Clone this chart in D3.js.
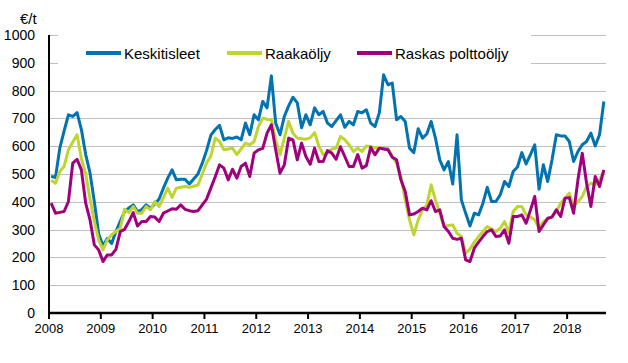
<!DOCTYPE html>
<html><head><meta charset="utf-8">
<script src="https://cdn.jsdelivr.net/npm/d3@7"></script>
<style>
html,body{margin:0;padding:0;background:#fff;}
svg{display:block;font-family:"Liberation Sans",Arial,sans-serif;}
</style></head>
<body><svg id="chart" width="628" height="363"></svg>
<script>
// Monthly data, January 2008 – September 2018 (€/t)
const years = [2008,2009,2010,2011,2012,2013,2014,2015,2016,2017,2018];
const yTicks = [0,100,200,300,400,500,600,700,800,900,1000];
const seriesNames = ["Keskitisleet","Raakaöljy","Raskas polttoöljy"];
const keskitisleet = [
 492,487,593,655,713,707,721,660,570,504,400,285,
 242,268,250,293,330,365,378,389,365,372,389,377,
 392,410,449,485,515,479,481,481,464,482,500,539,
 585,640,660,675,623,630,628,633,623,683,641,713,
 695,761,738,853,683,641,707,745,776,756,666,713,
 677,738,713,725,683,671,692,713,668,689,677,725,
 720,731,683,671,720,857,821,827,695,707,689,593,
 577,663,629,644,689,629,551,515,545,464,641,407,
 359,313,359,353,395,452,401,401,425,473,455,509,
 525,577,536,570,605,445,533,473,551,641,637,637,
 617,545,581,605,617,647,601,641,761];
const raakaoljy = [
 478,467,509,527,587,615,641,555,500,410,330,263,
 227,263,281,293,305,373,361,383,359,359,383,371,
 401,383,415,449,416,449,452,455,452,456,461,500,
 540,565,629,617,587,590,593,570,590,611,605,617,
 671,701,697,695,623,569,629,689,647,629,627,625,
 630,649,600,570,575,590,593,635,623,605,581,593,
 581,601,599,595,593,593,592,563,539,491,407,335,
 281,335,371,389,461,407,359,311,315,317,287,275,
 215,230,255,275,293,311,302,293,305,329,289,365,
 383,383,353,345,335,305,329,338,347,365,395,413,
 431,383,400,419,455,467,461,479,509];
const raskasPolttooljy = [
 395,359,362,365,401,539,553,515,395,335,245,227,
 185,209,209,229,293,301,329,361,313,329,329,347,
 345,329,359,367,375,373,389,373,368,365,368,389,
 410,450,490,533,521,479,517,485,527,539,491,575,
 587,592,647,677,587,503,533,629,623,551,611,563,
 535,593,545,545,584,575,553,598,563,527,527,570,
 521,530,596,569,593,590,587,560,551,479,437,353,
 356,365,377,371,404,365,371,311,293,269,265,269,
 191,185,233,255,275,293,299,275,277,299,251,347,
 347,353,323,370,419,293,317,341,345,371,347,413,
 415,359,479,575,467,383,491,455,515];
const colors = ["#0073b0","#bed530","#a1007d"];

const svg = d3.select("#chart");
const plotLeft = 49, plotRight = 606, plotTop = 35, plotBottom = 313;
const nMonths = keskitisleet.length;
const x = d3.scaleLinear().domain([0, nMonths]).range([plotLeft, plotRight]);
const y = d3.scaleLinear().domain([0, 1000]).range([plotBottom, plotTop]);

// gridlines
svg.append("g").selectAll("line").data(yTicks.filter(d => d > 0)).join("line")
  .attr("x1", plotLeft).attr("x2", plotRight)
  .attr("y1", d => Math.round(y(d)) + 0.5).attr("y2", d => Math.round(y(d)) + 0.5)
  .attr("stroke", "#bfbfbf").attr("stroke-width", 1);

// y tick labels
svg.append("g").selectAll("text").data(yTicks).join("text")
  .attr("x", 35).attr("y", d => y(d)).attr("dy", "0.36em")
  .attr("text-anchor", "end").attr("font-size", 14).attr("fill", "#000")
  .text(d => d);

svg.append("text").attr("x", 20).attr("y", 24).attr("font-size", 15).attr("fill","#000").text("€/t");

// legend background (hides gridlines under legend)
svg.append("rect").attr("x", 58).attr("y", 28).attr("width", 473).attr("height", 44).attr("fill", "#fff");

// lines
const series = [keskitisleet, raakaoljy, raskasPolttooljy];
const line = d3.line().x((d, i) => x(i + 0.5)).y(d => y(d));
series.forEach((s, k) => {
  svg.append("path").datum(s).attr("d", line)
    .attr("fill", "none").attr("stroke", colors[k]).attr("stroke-width", 3)
    .attr("stroke-linejoin", "round");
});

// axes
svg.append("line").attr("x1", plotLeft).attr("x2", plotLeft).attr("y1", plotTop).attr("y2", plotBottom + 1)
  .attr("stroke", "#000").attr("stroke-width", 2);
svg.append("line").attr("x1", plotLeft - 1).attr("x2", plotRight).attr("y1", plotBottom).attr("y2", plotBottom)
  .attr("stroke", "#000").attr("stroke-width", 2.5);
const yearTicks = years.map((yr, k) => ({yr, m: k * 12}));
svg.append("g").selectAll("line").data(yearTicks).join("line")
  .attr("x1", d => x(d.m)).attr("x2", d => x(d.m))
  .attr("y1", plotBottom).attr("y2", plotBottom + 6)
  .attr("stroke", "#000").attr("stroke-width", 2);
svg.append("g").selectAll("text").data(yearTicks).join("text")
  .attr("x", d => x(d.m)).attr("y", 333)
  .attr("text-anchor", "middle").attr("font-size", 13).attr("fill", "#000")
  .text(d => d.yr);

// legend
const legendX = [86, 227, 357];
seriesNames.forEach((name, k) => {
  svg.append("line").attr("x1", legendX[k]).attr("x2", legendX[k] + 35)
    .attr("y1", 53).attr("y2", 53).attr("stroke", colors[k]).attr("stroke-width", 4);
  svg.append("text").attr("x", legendX[k] + 38).attr("y", 58.5)
    .attr("font-size", 15).attr("fill", "#000").text(name);
});
</script></body></html>
